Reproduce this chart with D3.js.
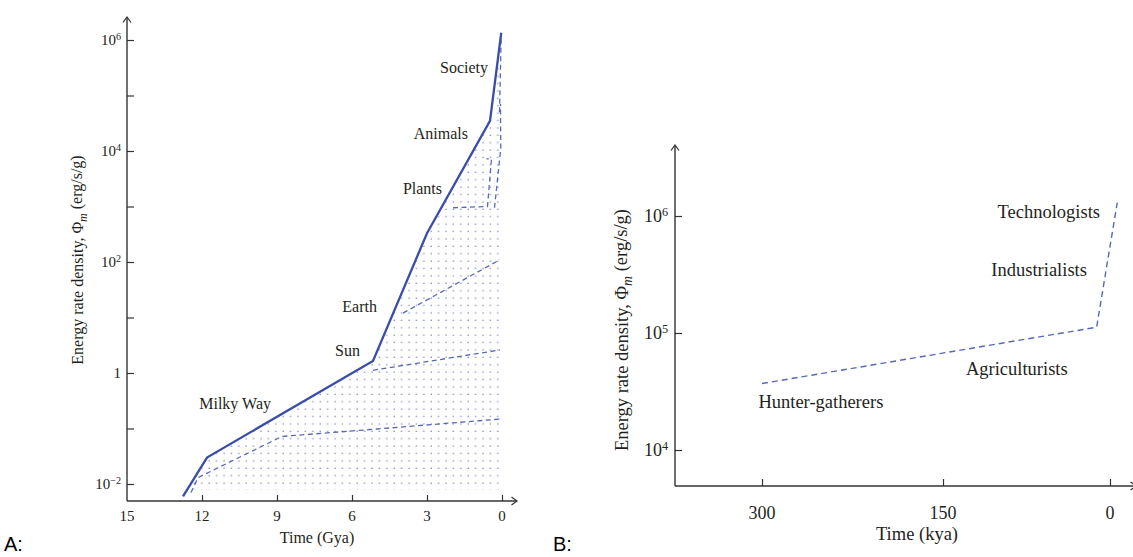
<!DOCTYPE html>
<html>
<head>
<meta charset="utf-8">
<script src="https://d3js.org/d3.v7.min.js"></script>
<style>
    body { margin: 0; background: #fff; }
    text { font-family: "Liberation Serif", "DejaVu Serif", serif; fill: #231f20; }
    .tag { font-family: "Liberation Sans", Arial, sans-serif; font-size: 20px; fill: #000; }
</style>
</head>
<body>
<div id="chart"></div>
<script>
// Panel A: time (Gya) vs energy rate density (erg/s/g)
const solidA = [[12.76, 0.006], [11.8, 0.03], [5.16, 1.65], [3.0, 330], [0.48, 35000], [0.03, 1.35e6]];
const milkyWayDash = [[12.44, 0.007], [12.16, 0.013], [8.8, 0.072], [5.0, 0.098], [0.08, 0.148]];
const sunDash = [[5.16, 1.12], [0.08, 2.6]];
const earthDash = [[3.96, 12], [0.08, 110]];
const plantsDash = [[1.96, 950], [0.58, 1000], [0.42, 7200], [0.62, 7200]];
const animalsDash = [[0.3, 950], [0.05, 11000], [0.06, 70000]];
const societyDash = [[0.1, 50000], [0.03, 1.3e6]];
const labelsA = [["Society", 0.56, 3.2e5], ["Animals", 1.36, 2.1e4], ["Plants", 2.4, 2100],
                 ["Earth", 5.0, 16], ["Sun", 5.68, 2.6], ["Milky Way", 9.24, 0.28]];
const xTicksA = [15, 12, 9, 6, 3, 0];
const yMajorA = [1e-2, 1, 1e2, 1e4, 1e6];
const yMinorA = [1e-1, 10, 1e3, 1e5];

// Panel B: time (kya)
const dashB = [[300, 37000], [12, 112000], [-6.5, 1.3e6]];
const labelsB = [["Technologists", 9, 1.1e6, "end"], ["Industrialists", 20.7, 3.5e5, "end"],
                 ["Agriculturists", 38, 5.0e4, "end"], ["Hunter-gatherers", 303, 2.6e4, "start"]];
const xTicksB = [300, 150, 0];
const yTicksB = [1e4, 1e5, 1e6];

const blue = "#3b4ea6", dashBlue = "#5868b8", axisCol = "#333";

const svg = d3.select("#chart").append("svg")
    .attr("width", 1133)
    .attr("height", 557);

const defs = svg.append("defs");
defs.append("marker")
    .attr("id", "arrow")
    .attr("viewBox", "-7 -5 9 10")
    .attr("refX", 0).attr("refY", 0)
    .attr("markerWidth", 9).attr("markerHeight", 10)
    .attr("markerUnits", "userSpaceOnUse")
    .attr("orient", "auto")
  .append("path")
    .attr("d", "M-5.5,-4 L0,0 L-5.5,4")
    .attr("fill", "none")
    .attr("stroke", axisCol)
    .attr("stroke-width", 1.2);
const pat = defs.append("pattern")
    .attr("id", "dots")
    .attr("width", 7.4).attr("height", 7.4)
    .attr("patternUnits", "userSpaceOnUse");
pat.append("circle").attr("cx", 2).attr("cy", 2).attr("r", 0.7).attr("fill", "#6670b2");

function powLabel(sel, v) {
    if (v === 1) { sel.text("1"); return; }
    const e = Math.round(Math.log10(v));
    sel.text("10");
    sel.append("tspan").attr("dy", "-0.45em").attr("font-size", "68%")
        .text(e < 0 ? "\u2212" + (-e) : e);
}

function yTitle(g, x, y, size) {
    const t = g.append("text")
        .attr("transform", `translate(${x},${y}) rotate(-90)`)
        .attr("text-anchor", "middle")
        .attr("font-size", size + "px");
    t.append("tspan").text("Energy rate density, \u03A6");
    t.append("tspan").attr("font-style", "italic").attr("font-size", "75%").attr("dy", "0.3em").text("m");
    t.append("tspan").attr("dy", "-0.3em").text("\u00A0(erg/s/g)");
}

// ---------- Panel A ----------
const xA = d3.scaleLinear().domain([15, 0]).range([127, 502]);
const yA = d3.scaleLog().domain([1e-2, 1e6]).range([484, 40]);
const lineA = d3.line().x(d => xA(d[0])).y(d => yA(d[1]));
const gA = svg.append("g");

// dotted region under the solid curve
const fillPts = solidA.concat([[0, 1.35e6], [0, 0.0078], [12.5, 0.0078]]);
gA.append("path")
    .attr("d", lineA(fillPts) + "Z")
    .attr("fill", "url(#dots)");

[milkyWayDash, sunDash, earthDash, plantsDash, animalsDash, societyDash].forEach(s => {
    gA.append("path")
        .attr("d", lineA(s))
        .attr("fill", "none")
        .attr("stroke", dashBlue)
        .attr("stroke-width", 1.3)
        .attr("stroke-dasharray", "5,3.5");
});
gA.append("path")
    .attr("d", lineA(solidA))
    .attr("fill", "none")
    .attr("stroke", blue)
    .attr("stroke-width", 2.3)
    .attr("stroke-linejoin", "miter");

// axes
gA.append("g")
    .attr("transform", "translate(127,0)")
    .call(d3.axisRight(yA).tickValues(yMajorA.concat(yMinorA)).tickSize(7).tickFormat(""))
    .call(g => g.select(".domain").remove())
    .call(g => g.selectAll("line").attr("stroke", axisCol).attr("stroke-width", 1.2));
gA.append("g")
    .attr("transform", "translate(0,501)")
    .call(d3.axisTop(xA).tickValues(xTicksA.slice(1)).tickSize(6).tickFormat(""))
    .call(g => g.select(".domain").remove())
    .call(g => g.selectAll("line").attr("stroke", axisCol).attr("stroke-width", 1.2));
gA.append("line").attr("x1", 127).attr("y1", 501).attr("x2", 127).attr("y2", 17)
    .attr("stroke", axisCol).attr("stroke-width", 1.4).attr("marker-end", "url(#arrow)");
gA.append("line").attr("x1", 127).attr("y1", 501).attr("x2", 517).attr("y2", 501)
    .attr("stroke", axisCol).attr("stroke-width", 1.4).attr("marker-end", "url(#arrow)");

yMajorA.forEach(v => {
    gA.append("text")
        .attr("x", 121).attr("y", yA(v) + 5)
        .attr("text-anchor", "end")
        .attr("font-size", "15px")
        .call(powLabel, v);
});
xTicksA.forEach(v => {
    gA.append("text")
        .attr("x", xA(v)).attr("y", 521)
        .attr("text-anchor", "middle")
        .attr("font-size", "15px")
        .text(v);
});
gA.append("text")
    .attr("x", 317).attr("y", 543)
    .attr("text-anchor", "middle")
    .attr("font-size", "16px")
    .text("Time (Gya)");
yTitle(gA, 83, 260, 16);

labelsA.forEach(d => {
    gA.append("text")
        .attr("x", xA(d[1])).attr("y", yA(d[2]))
        .attr("dy", "0.35em")
        .attr("text-anchor", "end")
        .attr("font-size", "16px")
        .text(d[0]);
});

// ---------- Panel B ----------
const xB = d3.scaleLinear().domain([300, 150, 0]).range([762, 943, 1110]);
const yB = d3.scaleLog().domain([1e4, 1e6]).range([450, 216]);
const lineB = d3.line().x(d => xB(d[0])).y(d => yB(d[1]));
const gB = svg.append("g");

gB.append("path")
    .attr("d", lineB(dashB))
    .attr("fill", "none")
    .attr("stroke", dashBlue)
    .attr("stroke-width", 1.4)
    .attr("stroke-dasharray", "6,4");

gB.append("g")
    .attr("transform", "translate(675,0)")
    .call(d3.axisRight(yB).tickValues(yTicksB).tickSize(7).tickFormat(""))
    .call(g => g.select(".domain").remove())
    .call(g => g.selectAll("line").attr("stroke", axisCol).attr("stroke-width", 1.2));
gB.append("g")
    .attr("transform", "translate(0,486)")
    .call(d3.axisTop(xB).tickValues(xTicksB).tickSize(7).tickFormat(""))
    .call(g => g.select(".domain").remove())
    .call(g => g.selectAll("line").attr("stroke", axisCol).attr("stroke-width", 1.2));
gB.append("line").attr("x1", 675).attr("y1", 486).attr("x2", 675).attr("y2", 145)
    .attr("stroke", axisCol).attr("stroke-width", 1.4).attr("marker-end", "url(#arrow)");
gB.append("line").attr("x1", 675).attr("y1", 486).attr("x2", 1136).attr("y2", 486)
    .attr("stroke", axisCol).attr("stroke-width", 1.4).attr("marker-end", "url(#arrow)");

yTicksB.forEach(v => {
    gB.append("text")
        .attr("x", 668).attr("y", yB(v) + 6)
        .attr("text-anchor", "end")
        .attr("font-size", "18px")
        .call(powLabel, v);
});
xTicksB.forEach(v => {
    gB.append("text")
        .attr("x", xB(v)).attr("y", 519)
        .attr("text-anchor", "middle")
        .attr("font-size", "18px")
        .text(v);
});
gB.append("text")
    .attr("x", 917).attr("y", 540)
    .attr("text-anchor", "middle")
    .attr("font-size", "18.5px")
    .text("Time (kya)");
yTitle(gB, 628, 330, 18.5);

labelsB.forEach(d => {
    gB.append("text")
        .attr("x", xB(d[1])).attr("y", yB(d[2]))
        .attr("dy", "0.35em")
        .attr("text-anchor", d[3])
        .attr("font-size", "18.5px")
        .text(d[0]);
});

// panel tags
svg.append("text").attr("class", "tag").attr("x", 4).attr("y", 551).text("A:");
svg.append("text").attr("class", "tag").attr("x", 553).attr("y", 551).text("B:");
</script>
</body>
</html>
